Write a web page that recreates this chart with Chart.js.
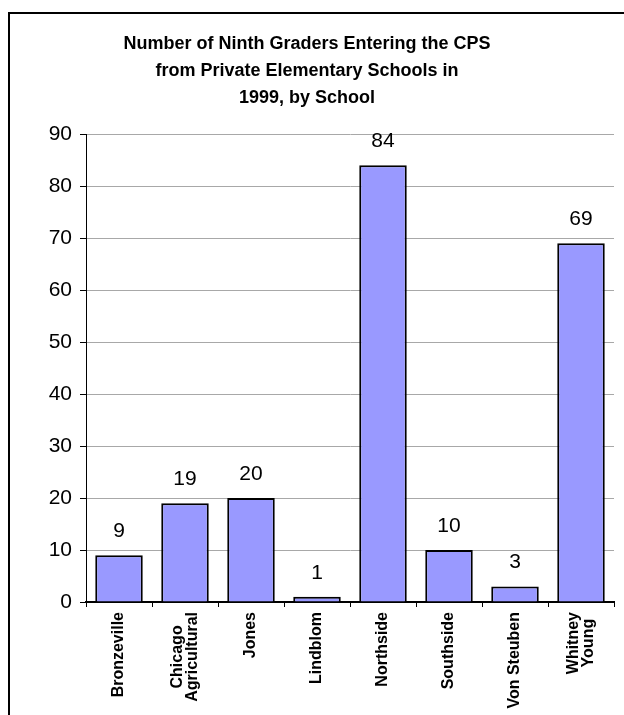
<!DOCTYPE html>
<html>
<head>
<meta charset="utf-8">
<script src="https://cdn.jsdelivr.net/npm/chart.js@4/dist/chart.umd.min.js"></script>
<style>
  html, body { margin: 0; padding: 0; background: #fff; }
  #wrap { position: relative; width: 624px; height: 715px; overflow: hidden; }
  #frame { position: absolute; left: 8px; top: 12px; width: 700px; height: 800px;
           border-left: 2px solid #000; border-top: 2px solid #000; }
  canvas { position: absolute; left: 0; top: 0; }
</style>
</head>
<body>
<div id="wrap">
  <div id="frame"></div>
  <canvas id="chart" width="624" height="715"></canvas>
</div>
<script>
var schools = ['Bronzeville', ['Chicago', 'Agricultural'], 'Jones', 'Lindblom',
               'Northside', 'Southside', 'Von Steuben', ['Whitney', 'Young']];
var students = [9, 19, 20, 1, 84, 10, 3, 69];
var titleLines = ['Number of Ninth Graders Entering the CPS',
                  'from Private Elementary Schools in',
                  '1999, by School'];

var FONT = '"Liberation Sans", Arial, sans-serif';

// value above each bar, and the rotated school names (lines centred on each other)
var labelsPlugin = {
  id: 'labelsPlugin',
  afterDatasetsDraw: function(chart){
    var ctx = chart.ctx;
    var meta = chart.getDatasetMeta(0);
    ctx.save();
    ctx.font = '21px ' + FONT;
    ctx.fillStyle = '#000';
    ctx.textAlign = 'center';
    ctx.textBaseline = 'alphabetic';
    for (var i = 0, l = meta.data.length; i < l; i++) {
      var bar = meta.data[i];
      ctx.fillText(String(students[i]), bar.x, bar.y - 18);
    }

    var xs = chart.scales.x;
    ctx.font = 'bold 16px ' + FONT;
    ctx.textBaseline = 'middle';
    for (var j = 0; j < schools.length; j++) {
      var lines = [].concat(schools[j]);
      var maxW = 0;
      for (var k = 0; k < lines.length; k++) maxW = Math.max(maxW, ctx.measureText(lines[k]).width);
      ctx.save();
      ctx.translate(xs.getPixelForTick(j), xs.top + 10);
      ctx.rotate(-Math.PI / 2);
      for (var k = 0; k < lines.length; k++) {
        ctx.fillText(lines[k], -maxW / 2, (k - (lines.length - 1) / 2) * 15);
      }
      ctx.restore();
    }
    ctx.restore();
  }
};

new Chart(document.getElementById('chart'), {
  type: 'bar',
  data: {
    labels: schools,
    datasets: [{
      data: students,
      backgroundColor: '#9999ff',
      borderColor: '#000',
      borderWidth: 2,
      categoryPercentage: 0.72,
      barPercentage: 1
    }]
  },
  options: {
    responsive: false,
    animation: false,
    layout: { padding: { left: 0, right: 10, top: 0, bottom: 0 } },
    plugins: {
      legend: { display: false },
      tooltip: { enabled: false },
      title: {
        display: true,
        text: titleLines,
        color: '#000',
        font: { family: FONT, size: 18, weight: 'bold', lineHeight: 1.5 },
        padding: { top: 31, bottom: 22 }
      }
    },
    scales: {
      y: {
        min: 0,
        max: 90,
        ticks: {
          stepSize: 10,
          color: '#000',
          padding: 8,
          font: { family: FONT, size: 21 }
        },
        grid: { color: '#a8a8a8', lineWidth: 1, tickLength: 6, tickColor: '#000' },
        border: { color: '#000', width: 1 },
        afterFit: function(scale){ scale.width = 86; }
      },
      x: {
        ticks: { display: false },
        grid: { offset: true, drawOnChartArea: false, tickLength: 5, tickColor: '#000', lineWidth: 1 },
        border: { color: '#000', width: 2 },
        afterFit: function(scale){ scale.height = 113; }
      }
    }
  },
  plugins: [labelsPlugin]
});
</script>
</body>
</html>
